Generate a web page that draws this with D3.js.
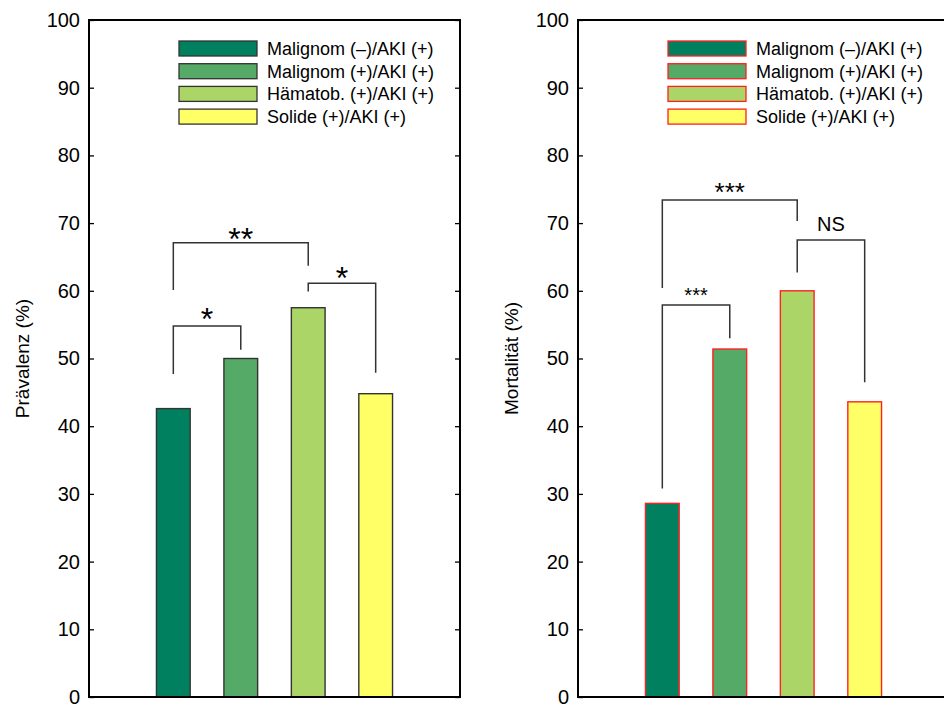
<!DOCTYPE html>
<html>
<head>
<meta charset="utf-8">
<script src="https://cdn.jsdelivr.net/npm/d3@7"></script>
<style>
  html, body { margin: 0; padding: 0; background: #fff; }
  svg { display: block; font-family: "Liberation Sans", Arial, sans-serif; }
</style>
</head>
<body>
<div id="chart"></div>
<script>
// Data
const categories = ["Malignom (–)/AKI (+)", "Malignom (+)/AKI (+)", "Hämatob. (+)/AKI (+)", "Solide (+)/AKI (+)"];
const barColors = ["#00805f", "#56aa67", "#abd567", "#ffff66"];
const prevalence = [42.6, 50.0, 57.5, 44.8];
const mortality = [28.6, 51.4, 60.0, 43.6];
const yTicks = [0, 10, 20, 30, 40, 50, 60, 70, 80, 90, 100];

// significance brackets: category indexes, bracket top, leg ends and label baseline (in %)
const prevalenceSig = [
    { from: 0, to: 1, top: 54.8, fromEnd: 47.7, toEnd: 51.3, labelAt: 54.2, label: "*", size: 32 },
    { from: 0, to: 2, top: 67.1, fromEnd: 60.1, toEnd: 63.7, labelAt: 66.1, label: "**", size: 32 },
    { from: 2, to: 3, top: 61.1, fromEnd: 59.9, toEnd: 47.9, labelAt: 60.3, label: "*", size: 32 }
];
const mortalitySig = [
    { from: 0, to: 1, top: 57.9, fromEnd: 30.8, toEnd: 53.0, labelAt: 58.4, label: "***", size: 20 },
    { from: 0, to: 2, top: 73.4, fromEnd: 60.4, toEnd: 70.3, labelAt: 73.2, label: "***", size: 26 },
    { from: 2, to: 3, top: 67.5, fromEnd: 62.7, toEnd: 46.5, labelAt: 68.9, label: "NS", size: 20 }
];

const W = 944, H = 705;
const svg = d3.select("#chart").append("svg")
    .attr("width", W)
    .attr("height", H);

const panelTop = 20, panelBottom = 697, panelWidth = 371;
const y = d3.scaleLinear().domain([0, 100]).range([panelBottom, panelTop]);

function drawPanel(left, values, yLabel, barStroke, sigs) {
    const x = d3.scaleBand()
        .domain(categories)
        .range([left, left + panelWidth])
        .paddingInner(0.5)
        .paddingOuter(1);

    const g = svg.append("g");

    // bars
    g.selectAll(".bar")
        .data(values)
        .join("rect")
        .attr("class", "bar")
        .attr("x", (d, i) => x(categories[i]))
        .attr("y", d => y(d))
        .attr("width", x.bandwidth())
        .attr("height", d => y(0) - y(d))
        .style("fill", (d, i) => barColors[i])
        .style("stroke", barStroke)
        .style("stroke-width", 1.4);

    // brackets
    const cx = i => x(categories[i]) + x.bandwidth() / 2;
    g.selectAll(".sig")
        .data(sigs)
        .join("path")
        .attr("class", "sig")
        .attr("d", d => `M${cx(d.from)},${y(d.fromEnd)}V${y(d.top)}H${cx(d.to)}V${y(d.toEnd)}`)
        .style("fill", "none")
        .style("stroke", "#333")
        .style("stroke-width", 1.5);

    g.selectAll(".sig-label")
        .data(sigs)
        .join("text")
        .attr("class", "sig-label")
        .attr("x", d => (cx(d.from) + cx(d.to)) / 2)
        .attr("y", d => y(d.labelAt))
        .attr("text-anchor", "middle")
        .style("font-size", d => d.size + "px")
        .style("fill", "#000")
        .text(d => d.label);

    // frame
    const gl = g.append("g")
        .attr("transform", `translate(${left},0)`)
        .call(d3.axisLeft(y).tickValues(yTicks).tickSize(-5).tickPadding(9).tickFormat(d3.format("d")));
    const gr = g.append("g")
        .attr("transform", `translate(${left + panelWidth},0)`)
        .call(d3.axisRight(y).tickValues(yTicks).tickSize(-5).tickFormat(""));
    [gl, gr].forEach(a => {
        a.select(".domain").remove();
        a.selectAll(".tick line").attr("stroke", "#000").attr("stroke-width", 1.3);
    });
    gl.selectAll("text")
        .style("font-family", "'Liberation Sans', Arial, sans-serif")
        .style("font-size", "20px")
        .style("fill", "#000");

    g.append("rect")
        .attr("x", left)
        .attr("y", panelTop)
        .attr("width", panelWidth)
        .attr("height", panelBottom - panelTop)
        .style("fill", "none")
        .style("stroke", "#000")
        .style("stroke-width", 2);

    g.append("text")
        .attr("transform", `translate(${left - 60},${(panelTop + panelBottom) / 2}) rotate(-90)`)
        .attr("text-anchor", "middle")
        .style("font-size", "19px")
        .style("fill", "#000")
        .text(yLabel);

    // legend
    const leg = g.append("g").attr("transform", `translate(${left + 90},41)`);
    const rows = leg.selectAll("g")
        .data(categories)
        .join("g")
        .attr("transform", (d, i) => `translate(0,${i * 22.7})`);
    rows.append("rect")
        .attr("width", 78)
        .attr("height", 15)
        .style("fill", (d, i) => barColors[i])
        .style("stroke", barStroke)
        .style("stroke-width", 1.3);
    rows.append("text")
        .attr("x", 88)
        .attr("y", 14)
        .style("font-size", "18px")
        .style("fill", "#000")
        .text(d => d);
}

drawPanel(89, prevalence, "Prävalenz (%)", "#333", prevalenceSig);
drawPanel(578, mortality, "Mortalität (%)", "#ff2020", mortalitySig);
</script>
</body>
</html>
